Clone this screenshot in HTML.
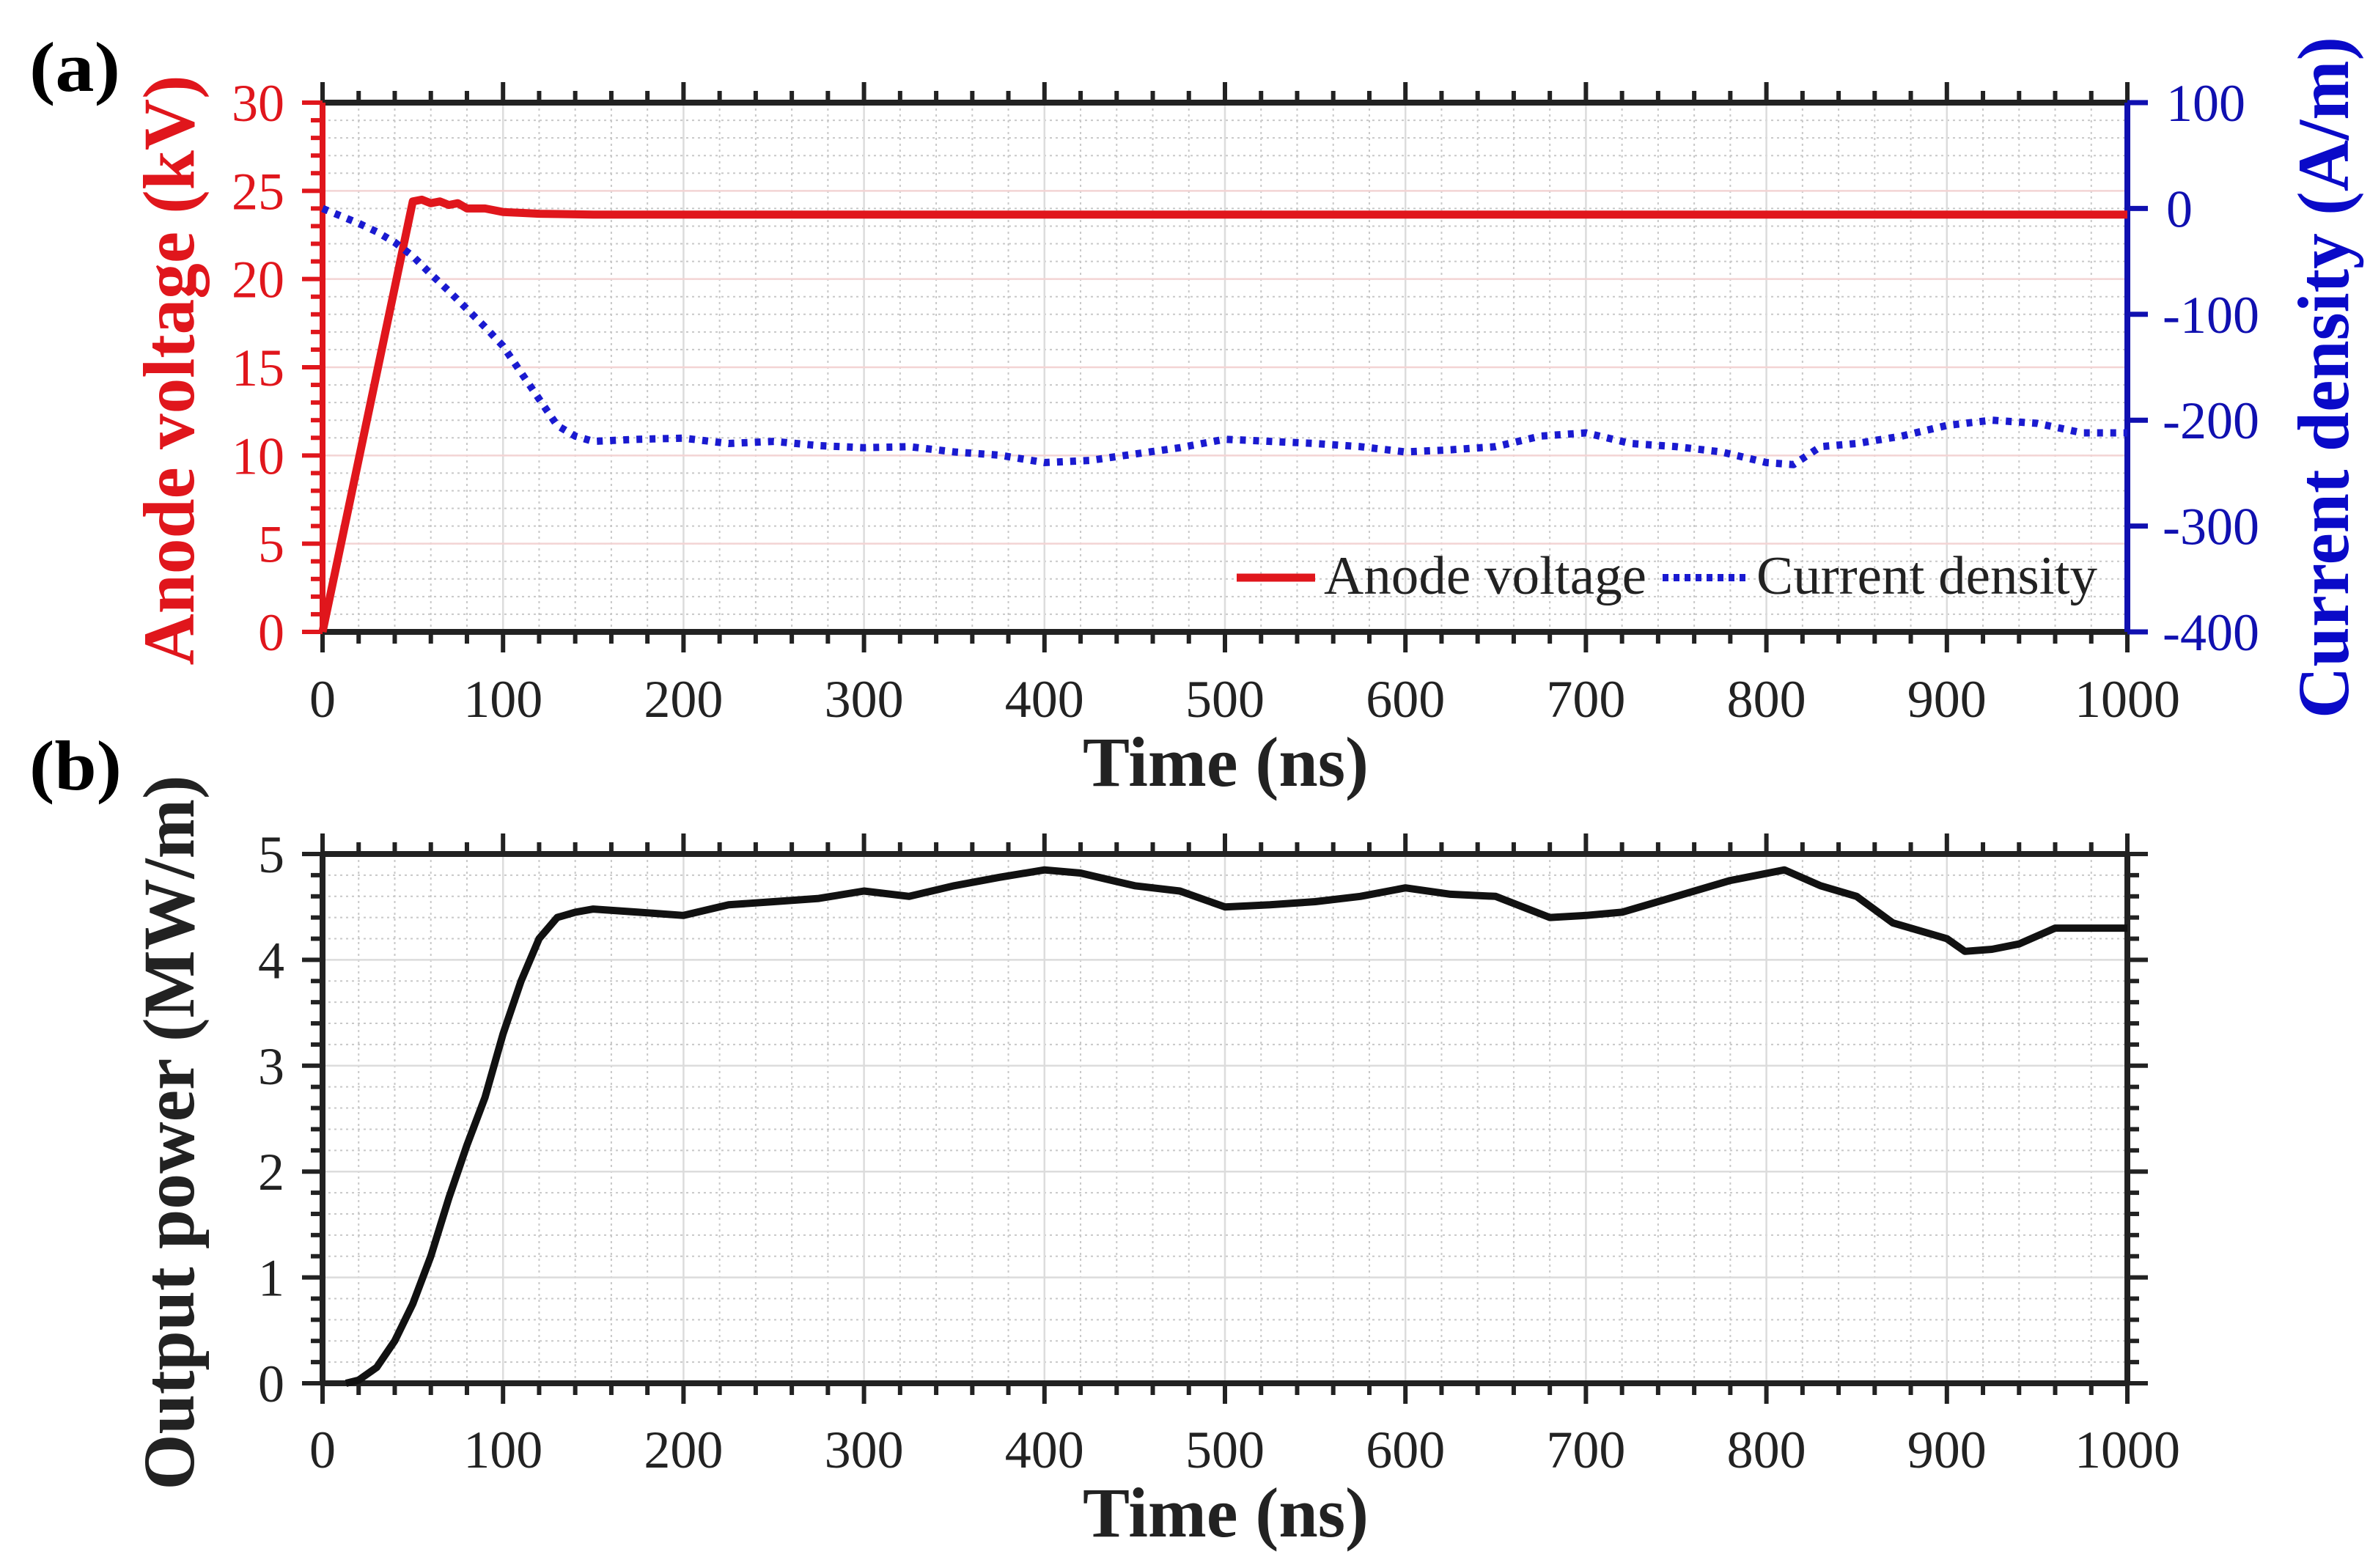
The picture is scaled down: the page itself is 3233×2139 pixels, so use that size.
<!DOCTYPE html>
<html><head><meta charset="utf-8"><style>
html,body{margin:0;padding:0;background:#fff;}
svg{display:block;font-family:"Liberation Serif","Times New Roman",serif;}
</style></head><body>
<svg id="fig" width="3233" height="2139" viewBox="0 0 3233 2139" xmlns="http://www.w3.org/2000/svg">
<rect width="3233" height="2139" fill="#fff"/>
<g id="ga"></g>
<g id="gb"></g>
<text x="40" y="124" font-size="96" font-weight="bold" textLength="124" lengthAdjust="spacingAndGlyphs">(a)</text>
<text x="40" y="1077" font-size="96" font-weight="bold" textLength="126" lengthAdjust="spacingAndGlyphs">(b)</text>
<text transform="translate(264,505) rotate(-90)" text-anchor="middle" font-size="100" font-weight="bold" fill="#e0161c" textLength="805" lengthAdjust="spacingAndGlyphs">Anode voltage (kV)</text>
<text transform="translate(3203,515) rotate(-90)" text-anchor="middle" font-size="100" font-weight="bold" fill="#0a0ac8" textLength="930" lengthAdjust="spacingAndGlyphs">Current density (A/m)</text>
<text x="1672" y="1072" text-anchor="middle" font-size="96" font-weight="bold" fill="#222" textLength="390" lengthAdjust="spacingAndGlyphs">Time (ns)</text>
<text transform="translate(264,1545) rotate(-90)" text-anchor="middle" font-size="100" font-weight="bold" fill="#222" textLength="975" lengthAdjust="spacingAndGlyphs">Output power (MW/m)</text>
<text x="1672" y="2096" text-anchor="middle" font-size="96" font-weight="bold" fill="#222" textLength="390" lengthAdjust="spacingAndGlyphs">Time (ns)</text>
<g>
<line x1="1687" y1="788" x2="1794" y2="788" stroke="#e0161c" stroke-width="11"/>
<text x="1806" y="810" font-size="74" fill="#222" textLength="440" lengthAdjust="spacingAndGlyphs">Anode voltage</text>
<line x1="2268" y1="788" x2="2388" y2="788" stroke="#1a1ad0" stroke-width="10" stroke-dasharray="8 7"/>
<text x="2396" y="810" font-size="74" fill="#222" textLength="465" lengthAdjust="spacingAndGlyphs">Current density</text>
</g>
</svg>
<script>
// ---- data ----
const xTicks = [0,100,200,300,400,500,600,700,800,900,1000];
const voltTicks = [0,5,10,15,20,25,30];
const curTicks = [-400,-300,-200,-100,0,100];
const powTicks = [0,1,2,3,4,5];
const voltT = [0,50,55,60,65,70,75,80,90,100,110,120,150,200,300,400,500,600,700,800,900,1000];
const voltV = [0,24.4,24.5,24.3,24.4,24.2,24.3,24.0,24.0,23.8,23.75,23.7,23.65,23.65,23.65,23.65,23.65,23.65,23.65,23.65,23.65,23.65];
const curT = [0,10,20,30,40,50,60,70,80,90,100,110,120,130,140,150,175,200,225,250,275,300,325,350,375,400,425,450,475,500,525,550,575,600,625,650,675,700,725,750,775,800,815,830,850,875,900,925,950,975,1000];
const curV = [0,-7,-14,-22,-32,-45,-62,-78,-95,-112,-130,-155,-180,-205,-215,-220,-218,-217,-222,-220,-224,-226,-225,-230,-233,-240,-238,-232,-226,-218,-220,-222,-225,-230,-228,-225,-215,-212,-222,-225,-230,-240,-242,-225,-222,-215,-205,-200,-203,-212,-212];
const powT = [13,20,30,40,50,60,70,80,90,100,110,120,130,140,150,175,200,225,250,275,300,325,350,375,400,420,450,475,500,525,550,575,600,625,650,680,700,720,750,780,810,830,850,870,900,910,925,940,960,1000];
const powV = [0,0.03,0.15,0.4,0.75,1.2,1.75,2.25,2.7,3.3,3.8,4.2,4.4,4.45,4.48,4.45,4.42,4.52,4.55,4.58,4.65,4.6,4.7,4.78,4.85,4.82,4.7,4.65,4.5,4.52,4.55,4.6,4.68,4.62,4.6,4.4,4.42,4.45,4.6,4.75,4.85,4.7,4.6,4.35,4.2,4.08,4.1,4.15,4.3,4.3];
// ---- layout ----
const X0=440, X1=2902;
const A={top:140,bot:862}, B={top:1165,bot:1887};
const NS="http://www.w3.org/2000/svg";
const sx=t=>X0+(X1-X0)*t/1000;
const syV=v=>A.bot-(A.bot-A.top)*v/30;
const syC=v=>A.bot-(A.bot-A.top)*(v+400)/500;
const syP=v=>B.bot-(B.bot-B.top)*v/5;
function mk(parent,tag,attrs){const e=document.createElementNS(NS,tag);for(const k in attrs)e.setAttribute(k,attrs[k]);parent.appendChild(e);return e;}
const ga=document.getElementById('ga'), gb=document.getElementById('gb');

function grid(g,P,yMajorVals,ys,yMinorStep,yMin,yMax,hColor){
  for(let t=0;t<=1000;t+=20){
    if(t%100===0) continue;
    const l=mk(g,'line',{x1:sx(t),x2:sx(t),y1:P.top,y2:P.bot,stroke:'#c8c8c8','stroke-width':2,'stroke-dasharray':'3 5'});
    
    
  }
  for(let v=yMin;v<=yMax+1e-9;v+=yMinorStep){
    const l=mk(g,'line',{x1:X0,x2:X1,y1:ys(v),y2:ys(v),stroke:'#c8c8c8','stroke-width':2,'stroke-dasharray':'3 5'});
    
    
  }
  xTicks.forEach(t=>{
    const l=mk(g,'line',{x1:sx(t),x2:sx(t),y1:P.top,y2:P.bot,stroke:'#dcdcdc','stroke-width':2.5});
    
    
  });
  yMajorVals.forEach(v=>{
    const l=mk(g,'line',{x1:X0,x2:X1,y1:ys(v),y2:ys(v),stroke:hColor,'stroke-width':2.5});
    
    
  });
}
function xAxis(g,P,labY){
  [P.top,P.bot].forEach((y,i)=>{
    const l=mk(g,'line',{x1:X0,x2:X1,y1:y,y2:y,stroke:'#222','stroke-width':8});
    
    
    const dir=i?1:-1;
    for(let t=0;t<=1000;t+=20){
      const len=(t%100===0)?28:16;
      const tk=mk(g,'line',{x1:sx(t),x2:sx(t),y1:y,y2:y+dir*len,stroke:'#222','stroke-width':6});
      
      
    }
  });
  xTicks.forEach(t=>{
    const tx=mk(g,'text',{x:sx(t),y:labY,'text-anchor':'middle','font-size':72,fill:'#222'});
    tx.textContent=t;
    
    
  });
}
function path(g,T,V,ys,attrs,name){
  let d='';T.forEach((t,i)=>{d+=(i?'L':'M')+sx(t).toFixed(1)+' '+ys(V[i]).toFixed(1);});
  const p=mk(g,'path',Object.assign({d:d,fill:'none','stroke-linejoin':'round'},attrs));
  
  
}
// panel a
grid(ga,A,voltTicks,syV,1,0,30,'#f3d4d4');
xAxis(ga,A,978);
let la=mk(ga,'line',{x1:X0,x2:X0,y1:A.top,y2:A.bot,stroke:'#e0161c','stroke-width':8});


for(let v=0;v<=30;v++){
  const len=(v%5===0)?28:16;
  const tk=mk(ga,'line',{x1:X0,x2:X0-len,y1:syV(v),y2:syV(v),stroke:'#e0161c','stroke-width':6});
  
  
}
voltTicks.forEach(v=>{
  const tx=mk(ga,'text',{x:388,y:syV(v)+25,'text-anchor':'end','font-size':72,fill:'#e0161c'});
  tx.textContent=v;
  
  
});
let ra=mk(ga,'line',{x1:X1,x2:X1,y1:A.top,y2:A.bot,stroke:'#1010b0','stroke-width':8});


curTicks.forEach(v=>{
  const tk=mk(ga,'line',{x1:X1,x2:X1+28,y1:syC(v),y2:syC(v),stroke:'#1010b0','stroke-width':7});
  
  
  const tx=mk(ga,'text',{x:(v<0?2950:2955),y:syC(v)+25,'font-size':72,fill:'#1010b0'});
  tx.textContent=v;
  
  
});
path(ga,voltT,voltV,syV,{stroke:'#e0161c','stroke-width':11},'anode-voltage-line');
path(ga,curT,curV,syC,{stroke:'#1a1ad0','stroke-width':10,'stroke-dasharray':'8 10'},'current-density-line');

// panel b
grid(gb,B,powTicks,syP,0.2,0,5,'#dcdcdc');
xAxis(gb,B,2002);
[X0,X1].forEach((x,i)=>{
  const l=mk(gb,'line',{x1:x,x2:x,y1:B.top,y2:B.bot,stroke:'#222','stroke-width':8});
  
  
  const dir=i?1:-1;
  for(let k=0;k<=25;k++){
    const v=k*0.2, len=(k%5===0)?28:16;
    const tk=mk(gb,'line',{x1:x,x2:x+dir*len,y1:syP(v),y2:syP(v),stroke:'#222','stroke-width':6});
    
    
  }
});
powTicks.forEach(v=>{
  const tx=mk(gb,'text',{x:388,y:syP(v)+25,'text-anchor':'end','font-size':72,fill:'#222'});
  tx.textContent=v;
  
  
});
path(gb,powT,powV,syP,{stroke:'#111','stroke-width':10},'output-power-line');
</script>
</body></html>
